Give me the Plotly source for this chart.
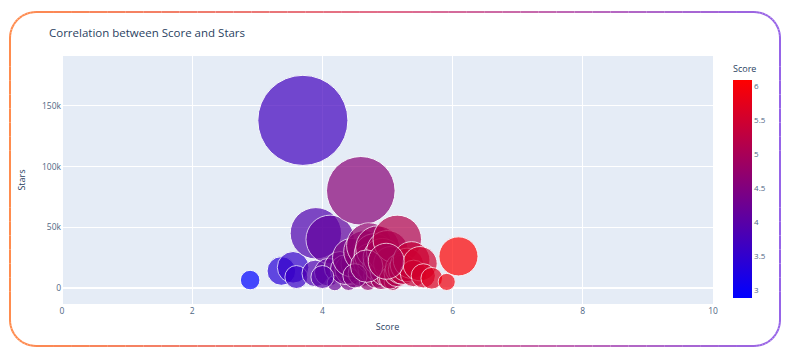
import math
import plotly.graph_objects as go

# ---- data ----
scores = [2.89, 3.37, 3.55, 3.60, 3.70, 3.90, 4.12, 3.89, 4.09, 4.27, 4.19, 4.40,
          4.42, 4.55, 4.59, 4.35, 4.45, 4.60, 4.65, 4.70, 4.72, 4.75, 4.78, 4.80,
          4.82, 4.85, 4.88, 4.90, 4.92, 4.95, 5.00, 5.02, 5.05, 5.08, 5.15, 5.04,
          5.15, 5.20, 5.24, 5.30, 5.37, 5.40, 5.50, 5.55, 5.68, 5.91, 6.09, 4.00,
          4.50, 4.68, 4.98]
stars = [6500, 14000, 17000, 9000, 138000, 45000, 40000, 12000, 13000, 17000, 4000, 5000,
         15000, 20000, 80000, 15000, 25000, 12000, 30000, 5000, 35000, 22000, 16000, 28000,
         10000, 33000, 19000, 7000, 25000, 14000, 30000, 9000, 20000, 5000, 40000, 8000,
         12000, 16000, 15000, 19000, 23000, 12000, 20000, 10000, 8000, 5000, 26000, 9000,
         10000, 18000, 22000]

x_ticks = [0, 2, 4, 6, 8, 10]
y_ticks = [0, 50000, 100000, 150000]
y_labels = ["0", "50k", "100k", "150k"]

OFF = 8  # browser body margin
W, H = 795 - OFF, 359 - OFF
ML, MT = 62 - OFF, 56 - OFF
PW, PH = 651, 248
MR, MB = W - ML - PW, H - MT - PH

def fx(px):  # page pixel x -> figure pixel x
    return px - OFF
def fy(py):
    return py - OFF

fig = go.Figure()
fig.add_trace(go.Scatter(
    x=scores, y=stars, mode="markers",
    marker=dict(
        size=stars, sizemode="area", sizeref=34.0,
        color=scores, colorscale="Bluered", cmin=2.885, cmax=6.085,
        opacity=0.7, line=dict(width=1, color="white"),
        showscale=True,
        colorbar=dict(
            title=dict(text="Score", font=dict(size=9, color="#2a3f5f"), side="top"),
            thickness=19, x=(fx(733) - ML) / PW, xanchor="left", xpad=0,
            y=(MT + PH - fy(62)) / PH, yanchor="top", len=236, lenmode="pixels", ypad=0,
            outlinewidth=0, tickfont=dict(size=8, color="#506784"),
            tickvals=[3, 3.5, 4, 4.5, 5, 5.5, 6],
            ticktext=["3", "3.5", "4", "4.5", "5", "5.5", "6"], ticklen=0,
        ),
    ),
    hovertemplate="Score=%{x}<br>Stars=%{y}<extra></extra>",
))

# ---- decorative rounded gradient border (page pixels -> paper coords) ----
def to_paper(px, py):
    return ((fx(px) - ML) / PW, (MT + PH - fy(py)) / PH)

L, R, T, B, rad = 10, 780, 12, 346, 26
pts = []
def edge(x0, y0, x1, y1, n=40):
    for i in range(n):
        t = i / n
        pts.append((x0 + (x1 - x0) * t, y0 + (y1 - y0) * t))
def arc(cx, cy, a0, a1, n=14):
    for i in range(n):
        a = a0 + (a1 - a0) * i / n
        pts.append((cx + rad * math.cos(a), cy + rad * math.sin(a)))
edge(L + rad, T, R - rad, T)
arc(R - rad, T + rad, -math.pi / 2, 0)
edge(R, T + rad, R, B - rad, 20)
arc(R - rad, B - rad, 0, math.pi / 2)
edge(R - rad, B, L + rad, B)
arc(L + rad, B - rad, math.pi / 2, math.pi)
edge(L, B - rad, L, T + rad, 20)
arc(L + rad, T + rad, math.pi, 1.5 * math.pi)
pts.append(pts[0])

stops = [(0.0, (255, 140, 78)), (0.5, (224, 108, 140)), (1.0, (150, 100, 232))]
def col(px):
    t = min(max((px - L) / (R - L), 0), 1)
    for (t0, c0), (t1, c1) in zip(stops[:-1], stops[1:]):
        if t <= t1:
            f = (t - t0) / (t1 - t0)
            return "rgb(%d,%d,%d)" % tuple(round(a + (b - a) * f) for a, b in zip(c0, c1))
    return "rgb(%d,%d,%d)" % stops[-1][1]

shapes = []
for (x0, y0), (x1, y1) in zip(pts[:-1], pts[1:]):
    a = to_paper(x0, y0); b = to_paper(x1, y1)
    shapes.append(dict(type="line", xref="paper", yref="paper",
                       x0=a[0], y0=a[1], x1=b[0], y1=b[1],
                       line=dict(color=col((x0 + x1) / 2), width=2), layer="above"))

fig.update_layout(
    width=W, height=H, autosize=False,
    margin=dict(l=ML, r=MR, t=MT, b=MB),
    paper_bgcolor="white", plot_bgcolor="#E5ECF6",
    font=dict(family="Open Sans, verdana, arial, sans-serif", color="#2a3f5f"),
    title=dict(text="Correlation between Score and Stars", x=fx(49) / W, xanchor="left",
               y=1 - fy(33) / H, yanchor="middle", font=dict(size=11.5, color="#2a3f5f")),
    xaxis=dict(range=[0, 10], tickvals=x_ticks, gridcolor="white", zerolinecolor="white",
               zerolinewidth=2, tickfont=dict(size=8.5, color="#506784"),
               title=dict(text="Score", font=dict(size=9), standoff=9)),
    yaxis=dict(range=[-13200, 191000], tickvals=y_ticks, ticktext=y_labels,
               gridcolor="white", zerolinecolor="white", zerolinewidth=2,
               tickfont=dict(size=8.5, color="#506784"),
               title=dict(text="Stars", font=dict(size=9), standoff=14)),
    shapes=shapes,
    showlegend=False,
)

fig.write_html("out.html")
